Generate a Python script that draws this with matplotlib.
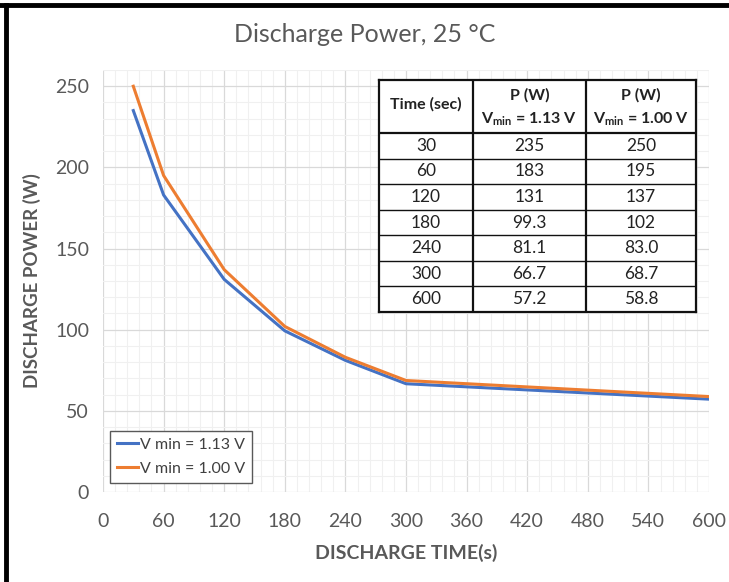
#!/usr/bin/env python3
"""Discharge power vs discharge time at 25 C."""
import matplotlib
matplotlib.use("Agg")
import matplotlib.pyplot as plt
from matplotlib.ticker import MultipleLocator

plt.rcParams["font.family"] = ["Lato", "DejaVu Sans"]
plt.rcParams["mathtext.fontset"] = "custom"
plt.rcParams["mathtext.rm"] = "Lato"
plt.rcParams["mathtext.bf"] = "Lato:bold"

# data (from the table in the chart)
times = [30, 60, 120, 180, 240, 300, 600]
p_113 = [235, 183, 131, 99.3, 81.1, 66.7, 57.2]
p_100 = [250, 195, 137, 102, 83.0, 68.7, 58.8]
series_labels = ["V min = 1.13 V", "V min = 1.00 V"]
vmin_labels = ["1.13 V", "1.00 V"]

BLUE = "#4472C4"
ORANGE = "#ED7D31"
GRAY = "#595959"
W, H = 729, 582


def fmt(v):
    return f"{v:.0f}" if v >= 100 else f"{v:.1f}"


fig = plt.figure(figsize=(W / 100, H / 100), dpi=100)
ax = fig.add_axes([103 / W, 1 - 492 / H, (709 - 103) / W, (492 - 70) / H])

ax.plot(times, p_113, color=BLUE, lw=2.2, label=series_labels[0], solid_joinstyle="round")
ax.plot(times, p_100, color=ORANGE, lw=2.2, label=series_labels[1], solid_joinstyle="round")

ax.set_xlim(0, 600)
ax.set_ylim(0, 260)
ax.set_xticks(range(0, 601, 60))
ax.set_yticks(range(0, 251, 50))
ax.xaxis.set_minor_locator(MultipleLocator(12))
ax.yaxis.set_minor_locator(MultipleLocator(10))
ax.grid(which="major", color="#D9D9D9", lw=0.9)
ax.grid(which="minor", color="#F0F0F0", lw=0.8)
ax.set_axisbelow(True)
for s in ax.spines.values():
    s.set_visible(False)
ax.tick_params(which="both", length=0, labelsize=14, labelcolor=GRAY)
ax.tick_params(axis="x", pad=15)
ax.tick_params(axis="y", pad=10)

ax.set_xlabel("DISCHARGE TIME(s)", fontsize=14, fontweight="bold", color=GRAY, labelpad=10)
ax.set_ylabel("DISCHARGE POWER (W)", fontsize=13.5, fontweight="bold", color=GRAY, labelpad=10)
fig.text(365 / W, 1 - 35 / H, "Discharge Power, 25 \u00b0C", fontsize=18,
         color=GRAY, ha="center", va="center")

leg = ax.legend(loc="lower left", bbox_to_anchor=(7 / 606, 9 / 422), fontsize=11.5,
                handlelength=1.3, handletextpad=0.1, labelspacing=0.6,
                borderpad=0.45, borderaxespad=0, fancybox=False, framealpha=1,
                labelcolor="#404040")
leg.get_frame().set_edgecolor(GRAY)
leg.get_frame().set_linewidth(1.0)

# inset data table
tx0, tx1, ty0, ty1 = 379, 696, 80, 312
tab = fig.add_axes([tx0 / W, 1 - ty1 / H, (tx1 - tx0) / W, (ty1 - ty0) / H])
tab.set_xlim(0, tx1 - tx0)
tab.set_ylim(ty1 - ty0, 0)
tab.set_facecolor("white")
tab.set_xticks([])
tab.set_yticks([])
for s in tab.spines.values():
    s.set_linewidth(1.6)
    s.set_color("#111111")
cols = [0, 94, 207, 317]
head = 53
row_h = (ty1 - ty0 - head) / len(times)
for c in cols[1:-1]:
    tab.axvline(c, color="#111111", lw=1.6)
tab.axhline(head, color="#111111", lw=1.6)
for i in range(1, len(times)):
    tab.axhline(head + i * row_h, color="#111111", lw=1.0)

cx = [(cols[i] + cols[i + 1]) / 2 for i in range(3)]
tab.text(cx[0], head / 2 - 2, "Time (sec)", ha="center", va="center",
         fontsize=11.5, fontweight="bold", color="#222222")
for j, vl in enumerate(vmin_labels):
    tab.text(cx[j + 1], 15, "P (W)", ha="center", va="center",
             fontsize=11.5, fontweight="bold", color="#222222")
    tab.text(cx[j + 1], 39, r"V$_{\mathbf{min}}$ = " + vl, ha="center", va="center",
             fontsize=11.5, fontweight="bold", color="#222222")
for i, (t, a, b) in enumerate(zip(times, p_113, p_100)):
    y = head + (i + 0.5) * row_h
    for j, txt in enumerate([str(t), fmt(a), fmt(b)]):
        tab.text(cx[j], y, txt, ha="center", va="center", fontsize=12.5, color="#222222")

# black frame on the top and left edges of the image
fig.add_artist(plt.Line2D([0, 1], [1 - 5 / H, 1 - 5 / H], color="black", lw=3.5,
                          transform=fig.transFigure))
fig.add_artist(plt.Line2D([6 / W, 6 / W], [0, 1 - 5 / H], color="black", lw=3.5,
                          transform=fig.transFigure))

fig.savefig("out.png", dpi=100)
